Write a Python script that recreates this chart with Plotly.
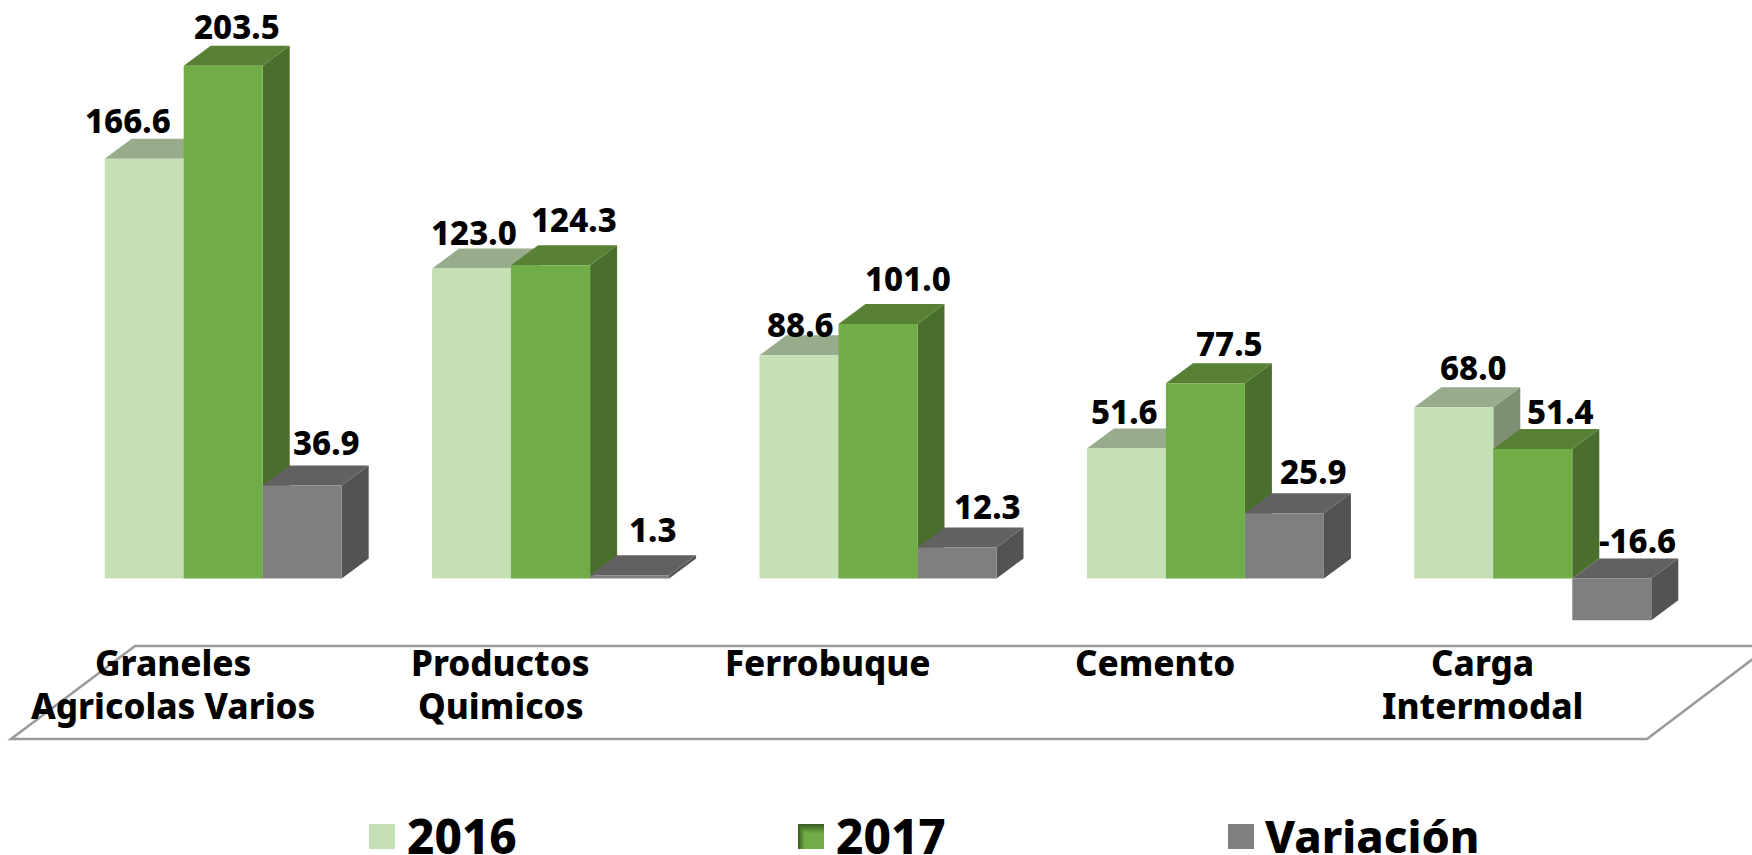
import plotly.graph_objects as go

# ---------- data ----------
categories = [["Graneles", "Agricolas Varios"], ["Productos", "Quimicos"], ["Ferrobuque"], ["Cemento"], ["Carga", "Intermodal"]]
series_names = ["2016", "2017", "Variación"]
values_2016 = [166.6, 123.0, 88.6, 51.6, 68.0]
values_2017 = [203.5, 124.3, 101.0, 77.5, 51.4]
values_var = [36.9, 1.3, 12.3, 25.9, -16.6]

# ---------- styling / layout constants ----------
W, H = 1752, 855
PX_PER_UNIT = 2.52
BASE_PX = 578.5
GROUP_PX = 327.4
CENTER0_PX = 223.2
BAR_PX = 79
DX_PX, DY_PX = 27, 20
FONT = "Noto Sans"
WEIGHT = 800

front = ["#C5E0B4", "#70AD47", "#7F7F7F"]
top = ["#97AC8A", "#578135", "#616161"]
side = ["#7F8F74", "#4A6E2B", "#535353"]

# label offsets (px, centre of text relative to top-centre of each front face)
shift_2016 = [(-16, 38), (2, 36), (1, 31), (-2, 37), (20, 40)]
shift_2017 = [(14, 39), (23, 46), (30, 45), (24, 40), (28, 37)]
shift_var = [(24, 43), (23, 46), (30, 41), (29, 42), (26, 38)]

bar_w = BAR_PX / GROUP_PX
ddx = DX_PX / GROUP_PX
ddy = DY_PX / PX_PER_UNIT

fig = go.Figure()
all_values = [values_2016, values_2017, values_var]
all_shifts = [shift_2016, shift_2017, shift_var]
annotations = []

for s, (name, vals) in enumerate(zip(series_names, all_values)):
    offs = (s - 1) * bar_w
    xs, ys = [], []
    xt, yt = [], []
    for g, v in enumerate(vals):
        x0 = g + offs - bar_w / 2
        x1 = x0 + bar_w
        hi, lo = max(v, 0), min(v, 0)
        # right side face
        xs += [x1, x1 + ddx, x1 + ddx, x1, x1, None]
        ys += [hi, hi + ddy, lo + ddy, lo, hi, None]
        # top face
        xt += [x0, x0 + ddx, x1 + ddx, x1, x0, None]
        yt += [hi, hi + ddy, hi + ddy, hi, hi, None]
        sx, sy = all_shifts[s][g]
        annotations.append(dict(x=g + offs, y=hi, text=f"{v:.1f}", xref="x", yref="y",
                                showarrow=False, xshift=sx, yshift=sy, yanchor="middle",
                                font=dict(family=FONT, size=33, color="black", weight=WEIGHT)))
    fig.add_trace(go.Scatter(x=xs, y=ys, mode="lines", fill="toself", fillcolor=side[s],
                             line=dict(width=0, color=side[s]), hoverinfo="skip", zorder=s * 3, showlegend=False))
    fig.add_trace(go.Scatter(x=xt, y=yt, mode="lines", fill="toself", fillcolor=top[s],
                             line=dict(width=0, color=top[s]), hoverinfo="skip", zorder=s * 3 + 1, showlegend=False))
    fig.add_trace(go.Bar(x=[g + offs for g in range(len(vals))], y=vals, width=bar_w, name=name,
                         marker=dict(color=front[s], line=dict(width=0)), zorder=s * 3 + 2, showlegend=False))


def px_x(p):
    return p / W


def px_y(p):
    return 1 - p / H


# category labels
LABEL_SHIFT_PX = -50
LINE_Y = [662.5, 705]
for g, lines in enumerate(categories):
    for ln, line in enumerate(lines):
        annotations.append(dict(x=g, y=px_y(LINE_Y[ln]), xref="x", yref="paper", text=line, showarrow=False,
                                xshift=LABEL_SHIFT_PX, yanchor="middle",
                                font=dict(family=FONT, size=35, color="black", weight=WEIGHT)))

# floor parallelogram
shapes = [dict(type="path", xref="paper", yref="paper", layer="below",
               path=f"M {px_x(11)} {px_y(739)} L {px_x(1647)} {px_y(739)} L {px_x(1770)} {px_y(646)} "
                    f"L {px_x(135)} {px_y(646)} Z",
               line=dict(color="#9A9A9A", width=2.5), fillcolor="rgba(0,0,0,0)")]

# legend
LEG_SWATCH = [369, 798, 1228]
LEG_TEXT = [405, 834, 1263]
LEG_SIZE = [47.5, 47.5, 45]
LEG_Y0, LEG_Y1 = 824, 849
SW = 26
for i, name in enumerate(series_names):
    if i == 1:
        # 2017 swatch: dark at the edge blending into the green
        n = 8
        c0, c1 = (0x3E, 0x5F, 0x24), (0x70, 0xAD, 0x47)
        for k in range(n):
            t = k / (n - 1)
            col = "rgb(%d,%d,%d)" % tuple(round(a + (b - a) * t) for a, b in zip(c0, c1))
            inset = k * 0.9
            shapes.append(dict(type="rect", xref="paper", yref="paper",
                               x0=px_x(LEG_SWATCH[i] + inset), x1=px_x(LEG_SWATCH[i] + SW),
                               y0=px_y(LEG_Y0 + inset * 1.4), y1=px_y(LEG_Y1),
                               line=dict(width=0), fillcolor=col))
    else:
        shapes.append(dict(type="rect", xref="paper", yref="paper",
                           x0=px_x(LEG_SWATCH[i]), x1=px_x(LEG_SWATCH[i] + SW),
                           y0=px_y(LEG_Y0), y1=px_y(LEG_Y1), line=dict(width=0), fillcolor=front[i]))
    annotations.append(dict(x=px_x(LEG_TEXT[i]), y=px_y(835), xref="paper", yref="paper", xanchor="left",
                            yanchor="middle", text=name, showarrow=False,
                            font=dict(family=FONT, size=LEG_SIZE[i], color="black", weight=WEIGHT)))

fig.update_layout(
    width=W, height=H, margin=dict(l=0, r=0, t=0, b=0), paper_bgcolor="white", plot_bgcolor="rgba(0,0,0,0)",
    barmode="overlay", showlegend=False, annotations=annotations, shapes=shapes,
    xaxis=dict(range=[-CENTER0_PX / GROUP_PX, (W - CENTER0_PX) / GROUP_PX], visible=False, fixedrange=True),
    yaxis=dict(range=[-(H - BASE_PX) / PX_PER_UNIT, BASE_PX / PX_PER_UNIT], visible=False, fixedrange=True),
)

fig.write_html("out.html", post_script="document.body.style.margin='0';", config=dict(displayModeBar=False))
